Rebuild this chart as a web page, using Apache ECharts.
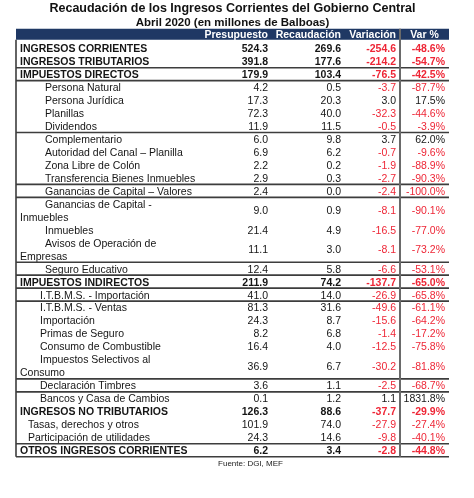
<!DOCTYPE html>
<html>
<head>
<meta charset="utf-8">
<script src="https://cdn.jsdelivr.net/npm/echarts@6/dist/echarts.min.js"></script>
<style>
html,body{margin:0;padding:0;background:#fff;}
#chart{width:474px;height:498px;}
</style>
</head>
<body>
<div id="chart"></div>
<script>
// ---------------- DATA ----------------
const titleText = 'Recaudación de los Ingresos Corrientes del Gobierno Central';
const subtitleText = 'Abril 2020 (en millones de Balboas)';
const sourceText = 'Fuente: DGI, MEF';
const columns = ['Presupuesto', 'Recaudación', 'Variación', 'Var %'];

const rowLabels = [
  'INGRESOS CORRIENTES',
  'INGRESOS TRIBUTARIOS',
  'IMPUESTOS DIRECTOS',
  'Persona Natural',
  'Persona Jurídica',
  'Planillas',
  'Dividendos',
  'Complementario',
  'Autoridad del Canal – Planilla',
  'Zona Libre de Colón',
  'Transferencia Bienes Inmuebles',
  'Ganancias de Capital – Valores',
  'Ganancias de Capital -\nInmuebles',
  'Inmuebles',
  'Avisos de Operación de\nEmpresas',
  'Seguro Educativo',
  'IMPUESTOS INDIRECTOS',
  'I.T.B.M.S. - Importación',
  'I.T.B.M.S. - Ventas',
  'Importación',
  'Primas de Seguro',
  'Consumo de Combustible',
  'Impuestos Selectivos al\nConsumo',
  'Declaración Timbres',
  'Bancos y Casa de Cambios',
  'INGRESOS NO TRIBUTARIOS',
  'Tasas, derechos y otros',
  'Participación de utilidades',
  'OTROS INGRESOS CORRIENTES'
];

// hierarchy level of each row
const rowLevels = [
  'total', 'total', 'total',
  'directo', 'directo', 'directo', 'directo', 'directo', 'directo', 'directo',
  'directo', 'directo', 'directo', 'directo', 'directo', 'directo',
  'total',
  'indirecto', 'indirecto', 'indirecto', 'indirecto', 'indirecto', 'indirecto', 'indirecto', 'indirecto',
  'total',
  'noTrib', 'noTrib',
  'total'
];

const presupuesto = [524.3, 391.8, 179.9, 4.2, 17.3, 72.3, 11.9, 6.0, 6.9, 2.2, 2.9, 2.4, 9.0, 21.4, 11.1, 12.4,
  211.9, 41.0, 81.3, 24.3, 8.2, 16.4, 36.9, 3.6, 0.1, 126.3, 101.9, 24.3, 6.2];
const recaudacion = [269.6, 177.6, 103.4, 0.5, 20.3, 40.0, 11.5, 9.8, 6.2, 0.2, 0.3, 0.0, 0.9, 4.9, 3.0, 5.8,
  74.2, 14.0, 31.6, 8.7, 6.8, 4.0, 6.7, 1.1, 1.2, 88.6, 74.0, 14.6, 3.4];
const variacion = [-254.6, -214.2, -76.5, -3.7, 3.0, -32.3, -0.5, 3.7, -0.7, -1.9, -2.7, -2.4, -8.1, -16.5, -8.1, -6.6,
  -137.7, -26.9, -49.6, -15.6, -1.4, -12.5, -30.2, -2.5, 1.1, -37.7, -27.9, -9.8, -2.8];
const varPct = [-48.6, -54.7, -42.5, -87.7, 17.5, -44.6, -3.9, 62.0, -9.6, -88.9, -90.3, -100.0, -90.1, -77.0, -73.2, -53.1,
  -65.0, -65.8, -61.1, -64.2, -17.2, -75.8, -81.8, -68.7, 1831.8, -29.9, -27.4, -40.1, -44.8];

// ---------------- LAYOUT / STYLE ----------------
const FONT = '"Liberation Sans", Arial, sans-serif';
const TABLE_W = 433;
const LABEL_X = { total: 4, directo: 29, indirecto: 24, noTrib: 12 };
const CONT_X = 4;
const COL_RIGHT = [252, 325, 380, 429];
const SEP_X = 384;
const RULE_AFTER = new Set([1, 2, 6, 10, 11, 14, 15, 16, 17, 22, 23, 27, 28]);
const RED = '#EE2636';
const INK = '#151515';
const NAVY = '#1F3864';
const TEXT_DY = 1;

const spans = rowLabels.map(l => l.split('\n').length);
const starts = [];
let acc = 0;
spans.forEach(s => { starts.push(acc); acc += s; });
const TOTAL_UNITS = acc;

const valueCols = [presupuesto, recaudacion, variacion, varPct];
function fmt(col, v) {
  return col === 3 ? v.toFixed(1) + '%' : v.toFixed(1);
}

function txt(p, text, font, fill, align) {
  return {
    type: 'text',
    style: {
      x: p[0], y: p[1] + TEXT_DY, text: text, font: font, fill: fill,
      align: align, textAlign: align,
      verticalAlign: 'middle', textVerticalAlign: 'middle'
    }
  };
}

function renderRow(params, api) {
  const i = api.value(0);
  const start = api.value(1);
  const span = api.value(2);
  const level = rowLevels[i];
  const font = (level === 'total' ? 'bold ' : '') + '10.5px ' + FONT;
  const children = [];
  rowLabels[i].split('\n').forEach((ln, k) => {
    const p = api.coord([k === 0 ? LABEL_X[level] : CONT_X, start + k + 0.5]);
    children.push(txt(p, ln, font, INK, 'left'));
  });
  const mid = start + span / 2;
  valueCols.forEach((arr, c) => {
    const v = arr[i];
    const p = api.coord([COL_RIGHT[c], mid]);
    children.push(txt(p, fmt(c, v), font, (c >= 2 && v < 0) ? RED : INK, 'right'));
  });
  if (RULE_AFTER.has(i)) {
    const a = api.coord([0, start + span]);
    const b = api.coord([TABLE_W, start + span]);
    children.push({ type: 'line', shape: { x1: a[0], y1: a[1], x2: b[0], y2: b[1] },
      style: { stroke: '#3d3d3d', lineWidth: 1.6 } });
  }
  return { type: 'group', children: children };
}

function renderHeader(params, api) {
  const a = api.coord([0, -1]);
  const b = api.coord([TABLE_W, -0.15]);
  const children = [{ type: 'rect', shape: { x: a[0], y: a[1], width: b[0] - a[0], height: b[1] - a[1] },
    style: { fill: NAVY } }];
  const hf = 'bold 10.5px ' + FONT;
  columns.forEach((c, k) => {
    if (k < 3) {
      children.push(txt(api.coord([COL_RIGHT[k], -0.62]), c, hf, '#ffffff', 'right'));
    } else {
      children.push(txt(api.coord([(SEP_X + TABLE_W) / 2, -0.62]), c, hf, '#ffffff', 'center'));
    }
  });
  return { type: 'group', children: children };
}

function renderFrame(params, api) {
  const s1 = api.coord([SEP_X, -1]);
  const s2 = api.coord([SEP_X, TOTAL_UNITS]);
  const l1 = api.coord([0, -0.15]);
  const l2 = api.coord([0, TOTAL_UNITS]);
  return { type: 'group', children: [
    { type: 'line', shape: { x1: s1[0], y1: s1[1], x2: s2[0], y2: s2[1] }, style: { stroke: '#6a6a6a', lineWidth: 2 } },
    { type: 'line', shape: { x1: l1[0], y1: l1[1], x2: l2[0], y2: l2[1] }, style: { stroke: '#3d3d3d', lineWidth: 1.6 } }
  ] };
}

const chart = echarts.init(document.getElementById('chart'), null, { renderer: 'canvas' });
chart.setOption({
  animation: false,
  backgroundColor: '#ffffff',
  grid: { left: 16, right: 25, top: 28.8, bottom: 41.3 },
  xAxis: { type: 'value', min: 0, max: TABLE_W, show: false },
  yAxis: { type: 'value', min: -1, max: TOTAL_UNITS, inverse: true, show: false },
  graphic: [
    { type: 'text', x: 232.5, y: 8.5, silent: true,
      style: { text: titleText, font: 'bold 12.5px ' + FONT, fill: '#111',
        align: 'center', textAlign: 'center', verticalAlign: 'middle', textVerticalAlign: 'middle' } },
    { type: 'text', x: 232.5, y: 22.5, silent: true,
      style: { text: subtitleText, font: 'bold 11.5px ' + FONT, fill: '#111',
        align: 'center', textAlign: 'center', verticalAlign: 'middle', textVerticalAlign: 'middle' } },
    { type: 'text', x: 250.5, y: 464, silent: true,
      style: { text: sourceText, font: '8px ' + FONT, fill: '#222',
        align: 'center', textAlign: 'center', verticalAlign: 'middle', textVerticalAlign: 'middle' } }
  ],
  series: [
    { type: 'custom', silent: true, renderItem: renderHeader, data: [[0, -1, 1]], clip: false },
    { type: 'custom', silent: true, renderItem: renderRow, clip: false,
      data: rowLabels.map((l, i) => [i, starts[i], spans[i]]) },
    { type: 'custom', silent: true, renderItem: renderFrame, data: [[0, 0, 0]], clip: false }
  ]
});
</script>
</body>
</html>
